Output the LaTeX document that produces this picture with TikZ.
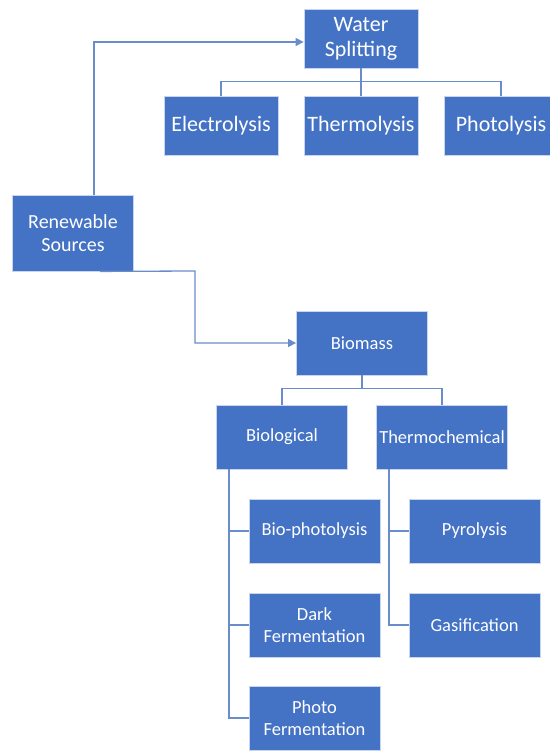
\documentclass[tikz,border=0pt]{standalone}
\usepackage{fontspec}
\setmainfont{Carlito}
\usetikzlibrary{arrows.meta,positioning}
\definecolor{boxblue}{HTML}{4472C4}
\definecolor{linkblue}{HTML}{6A8CCB}
\tikzset{
  hbox/.style={
    rectangle, draw=white!70!boxblue, fill=boxblue, line width=0.8pt,
    text=white, align=center, inner sep=2pt
  },
  topbox/.style={hbox, minimum width=114pt, minimum height=59pt,
    font=\fontsize{22}{25}\selectfont},
  srcbox/.style={hbox, minimum width=121pt, minimum height=76pt,
    font=\fontsize{20}{23}\selectfont},
  lowbox/.style={hbox, minimum width=131pt, minimum height=64pt,
    font=\fontsize{18.5}{22}\selectfont},
  hlink/.style={draw=linkblue, line width=1.3pt},
  harrow/.style={hlink, -{Triangle[length=8pt,width=8pt]}}
}

\begin{document}
\begin{tikzpicture}[x=1pt,y=-1pt]
  \useasboundingbox (0,0) rectangle (549,751);

  % source
  \node[srcbox] (rs) at (73,233) {Renewable\\Sources};

  % water splitting branch
  \node[topbox] (ws) at (361,38.5) {Water\\Splitting};
  \node[topbox] (el) at (221,125.5) {Electrolysis};
  \node[topbox] (th) at (361,125.5) {Thermolysis};
  \node[topbox] (pl) at (501,125.5) {Photolysis};

  % biomass branch
  \node[lowbox] (bm) at (362,343) {Biomass};
  \node[lowbox] (bl) at (282,437) {Biological};
  \node[lowbox] (tc) at (442,437) {Thermochemical};
  \node[lowbox] (bp) at (314.5,531) {Bio-photolysis};
  \node[lowbox] (dk) at (314.5,625) {Dark\\Fermentation};
  \node[lowbox] (pf) at (314.5,718) {Photo\\Fermentation};
  \node[lowbox] (py) at (474.5,531) {Pyrolysis};
  \node[lowbox] (gs) at (474.5,625) {Gasification};

  % arrows out of the source
  \coordinate (up) at (94,42);
  \coordinate (down) at (195,271);
  \draw[harrow] (rs.north -| up) -- (up) -- (up -| ws.west);
  \draw[harrow] ([xshift=27pt]rs.south) -- (down) |- (bm.west);

  % tree lines
  \draw[hlink] (ws.south) -- (th.north);
  \draw[hlink] (el.north) -- ++(0,-14) -| (pl.north);
  \draw[hlink] (bm.south) -- ++(0,14);
  \draw[hlink] (bl.north) -- ++(0,-16) -| (tc.north);
  \draw[hlink] ([xshift=-53pt]bl.south) |- (bp.west);
  \draw[hlink] ([xshift=-53pt]bl.south) |- (dk.west);
  \draw[hlink] ([xshift=-53pt]bl.south) |- (pf.west);
  \draw[hlink] ([xshift=-53pt]tc.south) |- (py.west);
  \draw[hlink] ([xshift=-53pt]tc.south) |- (gs.west);
\end{tikzpicture}
\end{document}
